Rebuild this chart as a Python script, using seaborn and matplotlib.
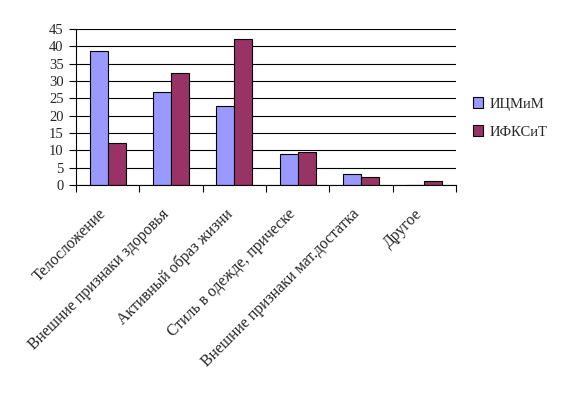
import matplotlib
matplotlib.use("Agg")
import matplotlib.pyplot as plt
import matplotlib.transforms as mtransforms
import seaborn as sns
import pandas as pd
from matplotlib.patches import Patch

categories = ["Телосложение", "Внешние признаки здоровья", "Активный образ жизни",
              "Стиль в одежде, прическе", "Внешние признаки мат.достатка", "Другое"]
series_names = ["ИЦМиМ", "ИФКСиТ"]
icmim = [38.6, 26.7, 22.7, 8.9, 3.1, 0.0]
ifksit = [12.0, 32.2, 42.0, 9.4, 2.2, 1.1]
colors = ["#9999ff", "#993366"]
yticks = [0, 5, 10, 15, 20, 25, 30, 35, 40, 45]

df = pd.DataFrame({
    "cat": categories * 2,
    "series": [series_names[0]] * len(categories) + [series_names[1]] * len(categories),
    "val": icmim + ifksit,
})

sns.set_style("white")
plt.rcParams['font.family'] = ['Liberation Serif', 'DejaVu Serif']

fig = plt.figure(figsize=(5.64, 4.2), dpi=100)
ax = fig.add_axes([76/564, 1-185/420, 380/564, 156/420])
sns.barplot(data=df, x="cat", y="val", hue="series", palette=colors, ax=ax,
            width=0.57, edgecolor="black", linewidth=0.8, saturation=1, legend=False)

ax.set_ylim(0, 45)
ax.set_xlim(-0.5, len(categories) - 0.5)
ax.set_yticks(yticks)
ax.set_yticklabels([str(t) for t in yticks], fontsize=10.5)
ax.yaxis.grid(True, color="black", linewidth=0.8)
ax.set_axisbelow(True)
for s in ["top", "right"]:
    ax.spines[s].set_visible(False)
for s in ["left", "bottom"]:
    ax.spines[s].set_color("black")
    ax.spines[s].set_linewidth(0.8)
ax.set_xlabel("")
ax.set_ylabel("")
ax.tick_params(axis="y", left=True, length=5, width=0.8, color="black", pad=4)
ax.set_xticks(range(len(categories)))
ax.set_xticklabels(categories, rotation=45, ha="right", rotation_mode="anchor", fontsize=11.3)
ax.tick_params(axis="x", bottom=False, pad=11.5)
offset = mtransforms.ScaledTranslation(-10/100, 0, fig.dpi_scale_trans)
for lab in ax.get_xticklabels():
    lab.set_transform(lab.get_transform() + offset)
ax.set_xticks([i - 0.5 for i in range(len(categories) + 1)], minor=True)
ax.tick_params(axis="x", which="minor", bottom=True, length=5, width=0.8, color="black")

handles = [Patch(facecolor=c, edgecolor="black", linewidth=0.8, label=n) for c, n in zip(colors, series_names)]
fig.legend(handles=handles, loc="center left", bbox_to_anchor=(460/564, 1-118/420),
           frameon=False, fontsize=10.5, handlelength=0.7, handleheight=0.7,
           handletextpad=0.4, labelspacing=1.0)

fig.savefig("out.png", dpi=100)
